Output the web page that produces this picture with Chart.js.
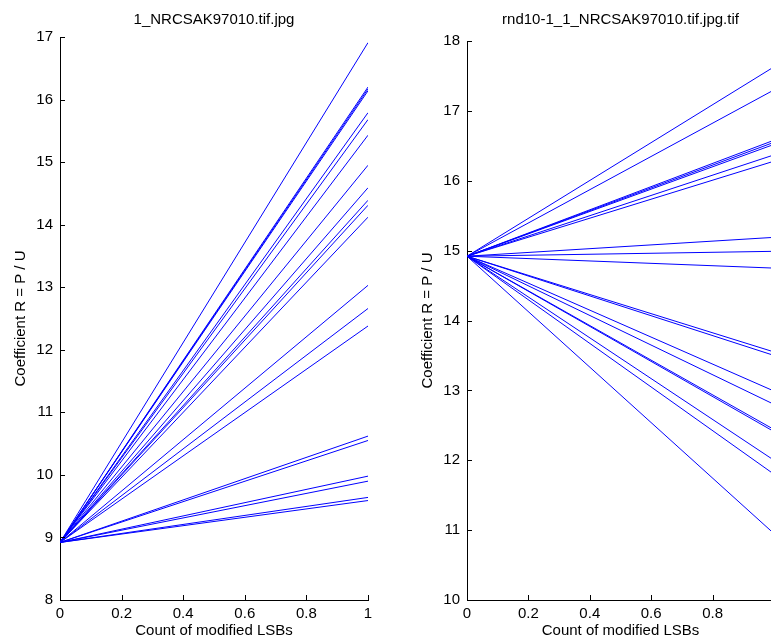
<!DOCTYPE html>
<html>
<head>
<meta charset="utf-8">
<script src="https://cdn.jsdelivr.net/npm/chart.js@4/dist/chart.umd.min.js"></script>
<style>
  html, body { margin: 0; padding: 0; background: #fff; overflow: hidden; width: 771px; height: 643px; }
  .box { position: absolute; top: 0; height: 643px; }
</style>
</head>
<body>
<div class="box" style="left:0;width:400px"><canvas id="esq"></canvas></div>
<div class="box" style="left:400px;width:410px"><canvas id="dir"></canvas></div>
<script>
// eixo x: quantidade de LSBs modificados
const xValores = [0, 1];

// grafico da esquerda: valor inicial e final de cada linha
const esqTitulo = '1_NRCSAK97010.tif.jpg';
const esqInicio = 8.92;
const esqFim = [16.91, 16.2, 16.17, 16.14, 15.79, 15.68, 15.43, 14.95, 14.59, 14.39, 14.31, 14.12,
                13.03, 12.66, 12.38, 10.62, 10.55, 9.98, 9.9, 9.64, 9.59];

// grafico da direita
const dirTitulo = 'rnd10-1_1_NRCSAK97010.tif.jpg.tif';
const dirInicio = 14.92;
const dirFim = [17.63, 17.3, 16.58, 16.55, 16.52, 16.37, 16.28, 15.19, 14.99, 14.75,
                13.55, 13.5, 12.99, 12.8, 12.44, 12.41, 12.0, 11.8, 10.95];

const fonte = 'Liberation Sans, Arial, sans-serif';

// Plugin para desenhar os ticks para dentro (estilo MATLAB) e o titulo centrado no grafico
const estiloMatlab = {
    id: 'estiloMatlab',
    afterDraw(chart, args, opts) {
        const ctx = chart.ctx;
        const area = chart.chartArea;
        const x = chart.scales.x;
        const y = chart.scales.y;
        ctx.save();
        ctx.strokeStyle = '#000';
        ctx.lineWidth = 1;
        ctx.beginPath();
        x.ticks.forEach(t => {
            const px = Math.round(x.getPixelForValue(t.value)) + 0.5;
            ctx.moveTo(px, area.bottom);
            ctx.lineTo(px, area.bottom - 5);
        });
        y.ticks.forEach(t => {
            const py = Math.round(y.getPixelForValue(t.value)) + 0.5;
            ctx.moveTo(area.left, py);
            ctx.lineTo(area.left + 5, py);
        });
        ctx.stroke();

        // titulo
        ctx.fillStyle = '#000';
        ctx.font = '15px ' + fonte;
        ctx.textAlign = 'center';
        ctx.textBaseline = 'middle';
        ctx.fillText(opts.texto, (area.left + area.right) / 2, 20);
        ctx.restore();
    }
};

function montarDatasets(inicio, fins) {
    return fins.map(fim => ({
        data: [{ x: xValores[0], y: inicio }, { x: xValores[1], y: fim }],
        borderColor: '#0000ff',
        borderWidth: 1,
        pointRadius: 0,
        fill: false
    }));
}

function criarGrafico(id, titulo, inicio, fins, cfg) {
    const ctx = document.getElementById(id).getContext('2d');
    return new Chart(ctx, {
        type: 'line',
        data: { datasets: montarDatasets(inicio, fins) },
        plugins: [estiloMatlab],
        options: {
            responsive: false,
            animation: false,
            layout: { padding: { left: 0, right: cfg.direita, top: cfg.topo, bottom: 0 } },
            plugins: {
                legend: { display: false },
                tooltip: { enabled: false },
                title: { display: false },
                estiloMatlab: { texto: titulo }
            },
            scales: {
                x: {
                    type: 'linear',
                    min: 0,
                    max: 1,
                    grid: { display: false, drawTicks: false },
                    border: { display: true, color: '#000', width: 1 },
                    ticks: {
                        stepSize: 0.2,
                        color: '#000',
                        padding: 5,
                        font: { family: fonte, size: 15 },
                        callback: v => (cfg.esconderUm && v === 1) ? '' : String(Math.round(v * 10) / 10)
                    },
                    title: {
                        display: true,
                        text: 'Count of modified LSBs',
                        color: '#000',
                        font: { family: fonte, size: 15 },
                        padding: { top: 0, bottom: 3 }
                    },
                    afterFit(scale) { scale.height = 43; }
                },
                y: {
                    min: cfg.ymin,
                    max: cfg.ymax,
                    grid: { display: false, drawTicks: false },
                    border: { display: true, color: '#000', width: 1 },
                    ticks: { stepSize: 1, color: '#000', padding: 7, font: { family: fonte, size: 15 } },
                    title: {
                        display: true,
                        text: 'Coefficient R = P / U',
                        color: '#000',
                        font: { family: fonte, size: 15 },
                        padding: { top: cfg.tituloY, bottom: 0 }
                    },
                    afterFit(scale) { scale.width = cfg.largY; }
                }
            }
        }
    });
}

document.getElementById('esq').width = 400;
document.getElementById('esq').height = 643;
document.getElementById('dir').width = 410;
document.getElementById('dir').height = 643;

criarGrafico('esq', esqTitulo, esqInicio, esqFim,
    { ymin: 8, ymax: 17, direita: 32, topo: 37, largY: 60, tituloY: 12, esconderUm: false });
criarGrafico('dir', dirTitulo, dirInicio, dirFim,
    { ymin: 10, ymax: 18, direita: 36, topo: 41, largY: 67, tituloY: 19, esconderUm: true });
</script>
</body>
</html>
